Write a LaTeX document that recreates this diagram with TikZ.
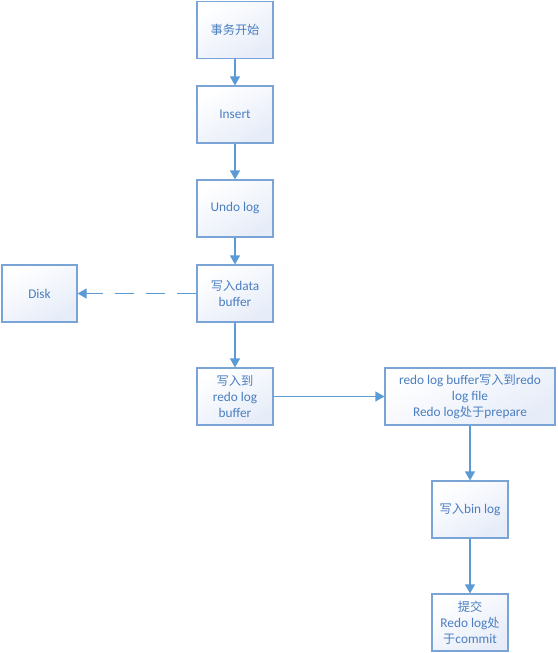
\documentclass[tikz,border=0pt]{standalone}
\usepackage{fontspec}
\setmainfont{Carlito}
\newfontfamily\cjk{Noto Sans CJK SC}[Scale=0.92]
\usetikzlibrary{arrows.meta}
\definecolor{boxline}{HTML}{7AA3D6}
\definecolor{boxfill}{HTML}{E6ECF8}
\definecolor{txt}{HTML}{4A7EC0}
\definecolor{conn}{HTML}{5B9BD5}
\tikzset{
  box/.style={draw=boxline, line width=1.2pt, rectangle, minimum width=76pt, minimum height=57pt,
    inner sep=2pt, align=center, text=txt, top color=white, bottom color=boxfill, shading angle=30,
    font=\fontsize{13.3}{16}\selectfont},
  conn/.style={draw=conn, line width=1.2pt, -{Triangle[width=10pt,length=9pt]}},
}
\begin{document}
\begin{tikzpicture}[x=1pt,y=-1pt]
\useasboundingbox (0,0) rectangle (557,653);
\node[box] (start) at (235,30) {{\cjk 事务开始}};
\node[box] (insert) at (235,114.5) {Insert};
\node[box] (undo) at (235,208.5) {Undo log};
\node[box] (data) at (235,293.5) {{\cjk 写入}data\\buffer};
\node[box, minimum width=75pt] (disk) at (39.5,293.5) {Disk};
\node[box] (redobuf) at (235,396.5) {{\cjk 写入到}\\redo log\\buffer};
\node[box, minimum width=170pt] (redofile) at (470,396.5) {redo log buffer{\cjk 写入到}redo\\log file\\Redo log{\cjk 处于}prepare};
\node[box] (binlog) at (470,509.5) {{\cjk 写入}bin log};
\node[box] (commit) at (470,622.5) {{\cjk 提交}\\Redo log{\cjk 处}\\{\cjk 于}commit};
\draw[conn] (start) -- (insert);
\draw[conn] (insert) -- (undo);
\draw[conn] (undo) -- (data);
\draw[conn, dash pattern=on 19pt off 12pt] (data) -- (disk);
\draw[conn] (data) -- (redobuf);
\draw[conn] (redobuf) -- (redofile);
\draw[conn] (redofile) -- (binlog);
\draw[conn] (binlog) -- (commit);
\end{tikzpicture}
\end{document}
